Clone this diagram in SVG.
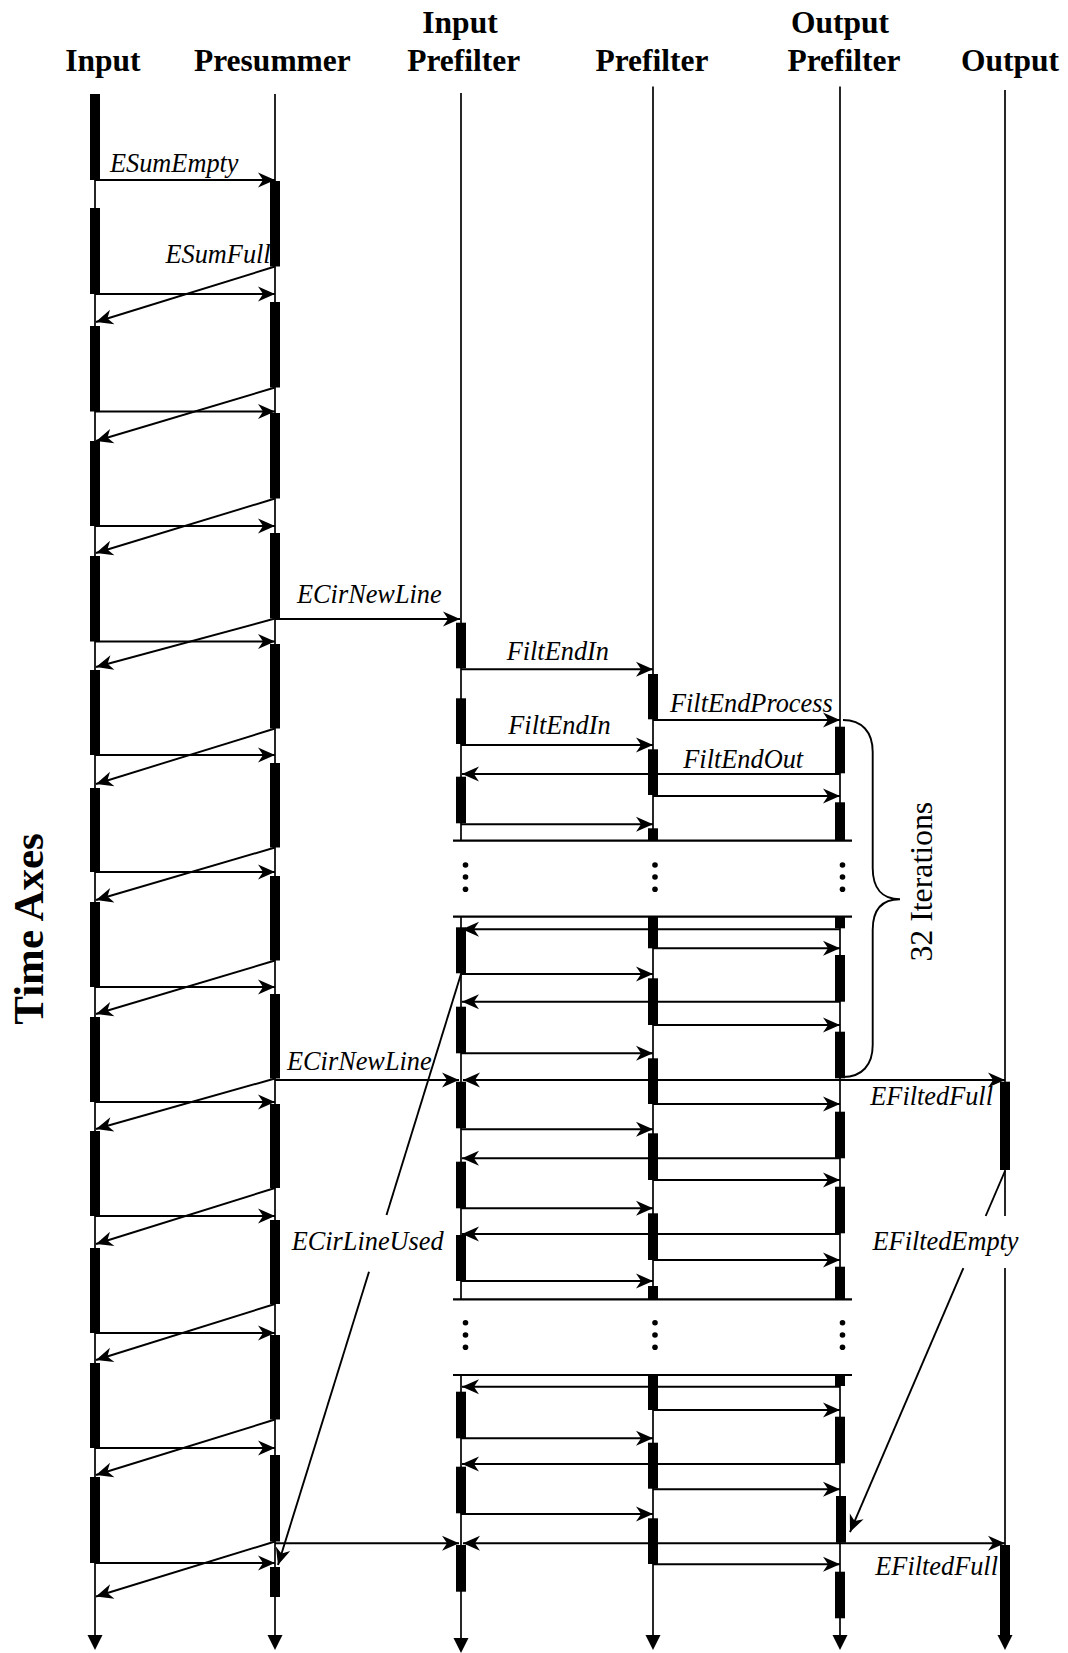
<svg xmlns="http://www.w3.org/2000/svg" width="1068" height="1653" viewBox="0 0 1068 1653">
  <style>
    .hdr { font-family: "Liberation Serif", "Times New Roman", serif; font-weight: bold; font-size: 31.5px; text-anchor: middle; fill: #000; }
    .lbl { font-family: "Liberation Serif", "Times New Roman", serif; font-style: italic; font-size: 26.3px; fill: #000; }
    .life { stroke: #000; stroke-width: 1.7; fill: none; }
    .msg { stroke: #000; stroke-width: 1.9; fill: none; marker-end: url(#arr); }
    .plain { stroke: #000; stroke-width: 1.9; fill: none; }
    .sep { stroke: #000; stroke-width: 2.2; }
    .bar { fill: #000; }
    .tip { fill: #000; }
  </style>
  <defs>
    <marker id="arr" markerUnits="userSpaceOnUse" viewBox="-19 -10 20 20" refX="0" refY="0" markerWidth="20" markerHeight="20" orient="auto">
      <path d="M0,0 L-17,-7.5 Q-13.5,-2.5 -12,0 Q-13.5,2.5 -17,7.5 Z" fill="#000"/>
    </marker>
  </defs>
  <rect width="1068" height="1653" fill="#fff"/>

  <!-- lifelines -->
  <g id="input">
    <text class="hdr" x="102.8" y="71">Input</text>
    <line class="life" x1="95" y1="94" x2="95" y2="1636"/>
    <polygon class="tip" points="87.5,1635 102.5,1635 95,1650"/>
    <g class="bar">
      <rect x="90" y="94" width="10" height="86"/>
      <rect x="90" y="208" width="10" height="86"/>
      <rect x="90" y="326" width="10" height="85.5"/>
      <rect x="90" y="441" width="10" height="85"/>
      <rect x="90" y="556" width="10" height="85.5"/>
      <rect x="90" y="670" width="10" height="85"/>
      <rect x="90" y="788" width="10" height="84"/>
      <rect x="90" y="902" width="10" height="85"/>
      <rect x="90" y="1017" width="10" height="85"/>
      <rect x="90" y="1131" width="10" height="85"/>
      <rect x="90" y="1248" width="10" height="85"/>
      <rect x="90" y="1363" width="10" height="85"/>
      <rect x="90" y="1477" width="10" height="86"/>
    </g>
  </g>

  <g id="presummer">
    <text class="hdr" x="272.4" y="71">Presummer</text>
    <line class="life" x1="275" y1="94" x2="275" y2="1636"/>
    <polygon class="tip" points="267.5,1635 282.5,1635 275,1650"/>
    <g class="bar">
      <rect x="270" y="181" width="10" height="85.5"/>
      <rect x="270" y="302" width="10" height="85.5"/>
      <rect x="270" y="413" width="10" height="85.5"/>
      <rect x="270" y="533" width="10" height="85.5"/>
      <rect x="270" y="644" width="10" height="84.5"/>
      <rect x="270" y="763" width="10" height="84.5"/>
      <rect x="270" y="876" width="10" height="84.5"/>
      <rect x="270" y="994" width="10" height="84.5"/>
      <rect x="270" y="1104" width="10" height="84"/>
      <rect x="270" y="1220" width="10" height="84"/>
      <rect x="270" y="1335" width="10" height="84.5"/>
      <rect x="270" y="1455" width="10" height="86.5"/>
      <rect x="270" y="1567" width="10" height="30"/>
    </g>
  </g>

  <g id="input-prefilter">
    <text class="hdr" x="460" y="33">Input</text>
    <text class="hdr" x="463.7" y="71">Prefilter</text>
    <line class="life" x1="461" y1="93" x2="461" y2="840.7"/>
    <line class="life" x1="461" y1="916.7" x2="461" y2="1299.3"/>
    <line class="life" x1="461" y1="1375" x2="461" y2="1639"/>
    <polygon class="tip" points="453.5,1638 468.5,1638 461,1653"/>
    <g class="bar">
      <rect x="456" y="622.7" width="10" height="45.6"/>
      <rect x="456" y="698.3" width="10" height="45.7"/>
      <rect x="456" y="776.7" width="10" height="46.6"/>
      <rect x="456" y="927.3" width="10" height="46"/>
      <rect x="456" y="1006.7" width="10" height="46.6"/>
      <rect x="456" y="1081.7" width="10" height="46.6"/>
      <rect x="456" y="1161.7" width="10" height="46.6"/>
      <rect x="456" y="1235" width="10" height="46"/>
      <rect x="456" y="1391.7" width="10" height="46.6"/>
      <rect x="456" y="1466.7" width="10" height="46.6"/>
      <rect x="456" y="1545" width="10" height="46.7"/>
    </g>
  </g>

  <g id="prefilter">
    <text class="hdr" x="652" y="71">Prefilter</text>
    <line class="life" x1="653" y1="86.5" x2="653" y2="840.7"/>
    <line class="life" x1="653" y1="916.7" x2="653" y2="1299.3"/>
    <line class="life" x1="653" y1="1375" x2="653" y2="1636"/>
    <polygon class="tip" points="645.5,1635 660.5,1635 653,1650"/>
    <g class="bar">
      <rect x="648" y="674" width="10" height="45.3"/>
      <rect x="648" y="749.3" width="10" height="45.7"/>
      <rect x="648" y="828.3" width="10" height="12.4"/>
      <rect x="648" y="916.7" width="10" height="31.6"/>
      <rect x="648" y="978.3" width="10" height="46.7"/>
      <rect x="648" y="1058.3" width="10" height="45.7"/>
      <rect x="648" y="1133.3" width="10" height="46.7"/>
      <rect x="648" y="1213.3" width="10" height="46.7"/>
      <rect x="648" y="1286" width="10" height="13.3"/>
      <rect x="648" y="1375" width="10" height="35"/>
      <rect x="648" y="1442.7" width="10" height="46"/>
      <rect x="648" y="1518.3" width="10" height="45.7"/>
    </g>
  </g>

  <g id="output-prefilter">
    <text class="hdr" x="840" y="33">Output</text>
    <text class="hdr" x="844" y="71">Prefilter</text>
    <line class="life" x1="840" y1="86.5" x2="840" y2="840.7"/>
    <line class="life" x1="840" y1="916.7" x2="840" y2="1299.3"/>
    <line class="life" x1="840" y1="1375" x2="840" y2="1636"/>
    <polygon class="tip" points="832.5,1635 847.5,1635 840,1650"/>
    <g class="bar">
      <rect x="835" y="726.7" width="10" height="46.6"/>
      <rect x="835" y="802.3" width="10" height="38.4"/>
      <rect x="835" y="916.7" width="10" height="11.6"/>
      <rect x="835" y="955" width="10" height="46.7"/>
      <rect x="835" y="1031.7" width="10" height="46.6"/>
      <rect x="835" y="1111.7" width="10" height="46.6"/>
      <rect x="835" y="1186.7" width="10" height="46.6"/>
      <rect x="835" y="1266.7" width="10" height="32.6"/>
      <rect x="835" y="1375" width="10" height="11"/>
      <rect x="835" y="1416.7" width="10" height="46.6"/>
      <rect x="836" y="1496" width="10" height="46.7"/>
      <rect x="835" y="1571.7" width="10" height="46.6"/>
    </g>
  </g>

  <g id="output">
    <text class="hdr" x="1010" y="71">Output</text>
    <line class="life" x1="1005" y1="90" x2="1005" y2="1216"/>
    <line class="life" x1="1005" y1="1268" x2="1005" y2="1636"/>
    <polygon class="tip" points="997.5,1635 1012.5,1635 1005,1650"/>
    <g class="bar">
      <rect x="1000" y="1081.7" width="10" height="88.3"/>
      <rect x="1000" y="1545" width="10" height="91"/>
    </g>
  </g>

  <!-- messages -->
  <g id="connectors">
    <!-- Input to Presummer -->
    <line class="msg" x1="95" y1="180" x2="275" y2="180"/>
    <line class="msg" x1="95" y1="294" x2="275" y2="294"/>
    <line class="msg" x1="95" y1="411.5" x2="275" y2="411.5"/>
    <line class="msg" x1="95" y1="526" x2="275" y2="526"/>
    <line class="msg" x1="95" y1="641.5" x2="275" y2="641.5"/>
    <line class="msg" x1="95" y1="755" x2="275" y2="755"/>
    <line class="msg" x1="95" y1="872" x2="275" y2="872"/>
    <line class="msg" x1="95" y1="987" x2="275" y2="987"/>
    <line class="msg" x1="95" y1="1102" x2="275" y2="1102"/>
    <line class="msg" x1="95" y1="1216" x2="275" y2="1216"/>
    <line class="msg" x1="95" y1="1333" x2="275" y2="1333"/>
    <line class="msg" x1="95" y1="1448" x2="275" y2="1448"/>
    <line class="msg" x1="95" y1="1563" x2="275" y2="1563"/>
    <!-- Presummer back to Input -->
    <line class="msg" x1="275" y1="266.5" x2="96" y2="322"/>
    <line class="msg" x1="275" y1="387.5" x2="96" y2="441"/>
    <line class="msg" x1="275" y1="498.5" x2="96" y2="553"/>
    <line class="msg" x1="275" y1="618.5" x2="96" y2="667"/>
    <line class="msg" x1="275" y1="728.5" x2="96" y2="784"/>
    <line class="msg" x1="275" y1="847.5" x2="96" y2="900"/>
    <line class="msg" x1="275" y1="960.5" x2="96" y2="1014"/>
    <line class="msg" x1="275" y1="1078.5" x2="96" y2="1129"/>
    <line class="msg" x1="275" y1="1188" x2="96" y2="1244"/>
    <line class="msg" x1="275" y1="1304" x2="96" y2="1360"/>
    <line class="msg" x1="275" y1="1419.5" x2="96" y2="1475"/>
    <line class="msg" x1="275" y1="1541.5" x2="96" y2="1596.5"/>
    <!-- Presummer to Input Prefilter -->
    <line class="msg" x1="275" y1="619" x2="460" y2="619"/>
    <line class="msg" x1="275" y1="1080" x2="459" y2="1080"/>
    <line class="msg" x1="275" y1="1543.3" x2="459" y2="1543.3"/>
    <!-- Input Prefilter to Prefilter -->
    <line class="msg" x1="461" y1="669.3" x2="653" y2="669.3"/>
    <line class="msg" x1="461" y1="745" x2="653" y2="745"/>
    <line class="msg" x1="461" y1="824.3" x2="653" y2="824.3"/>
    <line class="msg" x1="461" y1="974" x2="653" y2="974"/>
    <line class="msg" x1="461" y1="1053.3" x2="653" y2="1053.3"/>
    <line class="msg" x1="461" y1="1129.3" x2="653" y2="1129.3"/>
    <line class="msg" x1="461" y1="1208.3" x2="653" y2="1208.3"/>
    <line class="msg" x1="461" y1="1281" x2="653" y2="1281"/>
    <line class="msg" x1="461" y1="1438.3" x2="653" y2="1438.3"/>
    <line class="msg" x1="461" y1="1514" x2="653" y2="1514"/>
    <!-- Prefilter to Output Prefilter -->
    <line class="msg" x1="653" y1="720" x2="840" y2="720"/>
    <line class="msg" x1="653" y1="796" x2="840" y2="796"/>
    <line class="msg" x1="653" y1="948.3" x2="840" y2="948.3"/>
    <line class="msg" x1="653" y1="1025" x2="840" y2="1025"/>
    <line class="msg" x1="653" y1="1104" x2="840" y2="1104"/>
    <line class="msg" x1="653" y1="1180" x2="840" y2="1180"/>
    <line class="msg" x1="653" y1="1260" x2="840" y2="1260"/>
    <line class="msg" x1="653" y1="1410" x2="840" y2="1410"/>
    <line class="msg" x1="653" y1="1489.3" x2="840" y2="1489.3"/>
    <line class="msg" x1="653" y1="1564.3" x2="840" y2="1564.3"/>
    <!-- Output Prefilter back to Input Prefilter -->
    <line class="msg" x1="840" y1="774" x2="462" y2="774"/>
    <line class="msg" x1="840" y1="929.3" x2="462" y2="929.3"/>
    <line class="msg" x1="840" y1="1001.7" x2="462" y2="1001.7"/>
    <line class="msg" x1="840" y1="1080" x2="463" y2="1080"/>
    <line class="msg" x1="840" y1="1158.3" x2="462" y2="1158.3"/>
    <line class="msg" x1="840" y1="1234" x2="462" y2="1234"/>
    <line class="msg" x1="840" y1="1386.7" x2="462" y2="1386.7"/>
    <line class="msg" x1="840" y1="1464" x2="462" y2="1464"/>
    <line class="msg" x1="840" y1="1543.3" x2="463" y2="1543.3"/>
    <!-- Output Prefilter to Output -->
    <line class="msg" x1="840" y1="1080" x2="1005" y2="1080"/>
    <line class="msg" x1="840" y1="1543.3" x2="1005" y2="1543.3"/>
    <!-- ECirLineUsed (broken around its label) -->
    <line class="plain" x1="461" y1="974" x2="386.5" y2="1215"/>
    <line class="msg" x1="369" y1="1271.7" x2="278" y2="1565"/>
    <!-- EFiltedEmpty (broken around its label) -->
    <line class="plain" x1="1005" y1="1171" x2="985.7" y2="1216"/>
    <line class="msg" x1="963.4" y1="1268" x2="850" y2="1532"/>

    <text class="lbl" x="110" y="172">ESumEmpty</text>
    <text class="lbl" x="165.5" y="263">ESumFull</text>
    <text class="lbl" x="297" y="603">ECirNewLine</text>
    <text class="lbl" x="287" y="1070">ECirNewLine</text>
    <text class="lbl" x="506.7" y="660">FiltEndIn</text>
    <text class="lbl" x="670" y="711.7">FiltEndProcess</text>
    <text class="lbl" x="508.3" y="734">FiltEndIn</text>
    <text class="lbl" x="683.3" y="768.3">FiltEndOut</text>
    <text class="lbl" x="993" y="1105" text-anchor="end">EFiltedFull</text>
    <text class="lbl" x="291.7" y="1250">ECirLineUsed</text>
    <text class="lbl" x="872.5" y="1250">EFiltedEmpty</text>
    <text class="lbl" x="998" y="1575" text-anchor="end">EFiltedFull</text>
  </g>

  <!-- elided iterations -->
  <g id="iteration-gaps">
    <line class="sep" x1="453" y1="840.7" x2="852" y2="840.7"/>
    <line class="sep" x1="453" y1="916.7" x2="852" y2="916.7"/>
    <line class="sep" x1="453" y1="1299.3" x2="852" y2="1299.3"/>
    <line class="sep" x1="453" y1="1375" x2="852" y2="1375"/>
    <g fill="#000">
      <circle cx="465.5" cy="865" r="2.8"/><circle cx="465.5" cy="877" r="2.8"/><circle cx="465.5" cy="889.3" r="2.8"/>
      <circle cx="655" cy="865" r="2.8"/><circle cx="655" cy="877" r="2.8"/><circle cx="655" cy="889.3" r="2.8"/>
      <circle cx="842.5" cy="865" r="2.8"/><circle cx="842.5" cy="877" r="2.8"/><circle cx="842.5" cy="889.3" r="2.8"/>
      <circle cx="465.5" cy="1322.7" r="2.8"/><circle cx="465.5" cy="1335" r="2.8"/><circle cx="465.5" cy="1347.3" r="2.8"/>
      <circle cx="655" cy="1322.7" r="2.8"/><circle cx="655" cy="1335" r="2.8"/><circle cx="655" cy="1347.3" r="2.8"/>
      <circle cx="842.5" cy="1322.7" r="2.8"/><circle cx="842.5" cy="1335" r="2.8"/><circle cx="842.5" cy="1347.3" r="2.8"/>
    </g>
  </g>

  <g id="iterations-brace">
    <path class="plain" d="M843,720 C862,720 872.7,732 872.7,752 L872.7,868 C872.7,888 882,899.3 900,899.3 C882,899.3 872.7,910 872.7,930 L872.7,1045 C872.7,1065 862,1077 843,1077"/>
    <text transform="translate(931.5,881.7) rotate(-90)" font-family="Liberation Serif, Times New Roman, serif" font-size="31.8" text-anchor="middle">32 Iterations</text>
  </g>

  <g id="time-axis-label">
    <text transform="translate(42.7,929) rotate(-90)" font-family="Liberation Serif, Times New Roman, serif" font-weight="bold" font-size="43" text-anchor="middle">Time Axes</text>
  </g>
</svg>
